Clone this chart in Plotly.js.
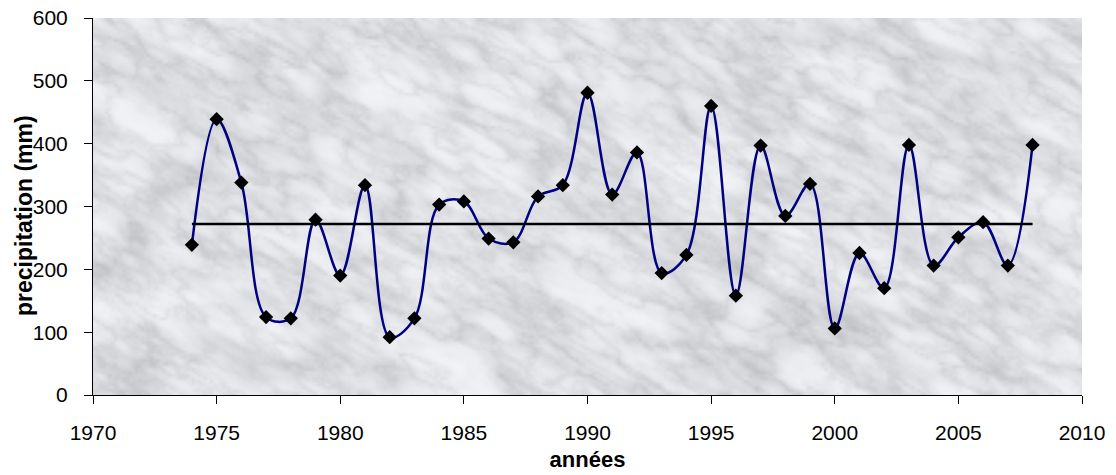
<!DOCTYPE html>
<html>
<head>
<meta charset="utf-8">
<script src="https://cdn.plot.ly/plotly-3.0.1.min.js"></script>
<style>
html,body{margin:0;padding:0;background:#fff;}
#chart{width:1116px;height:475px;}
</style>
</head>
<body>
<div id="chart"></div>
<script>
// ---- data ----
const years = [1974,1975,1976,1977,1978,1979,1980,1981,1982,1983,1984,1985,1986,1987,1988,1989,1990,1991,1992,1993,1994,1995,1996,1997,1998,1999,2000,2001,2002,2003,2004,2005,2006,2007,2008];
const precipitation = [239,439,338,124,122,279,190,334,92,122,303,308,249,243,316,334,481,319,386,194,223,460,158,397,285,336,106,226,170,398,206,251,275,206,398];
const meanYears = [1974, 2008];
const meanValues = [272, 272];
const xTicks = [1970,1975,1980,1985,1990,1995,2000,2005,2010];
const yTicks = [0,100,200,300,400,500,600];

// ---- decorative marble texture (background only) ----
function makeMarble(w, h) {
  let s = 98765;
  function rnd(){ s |= 0; s = s + 0x6D2B79F5 | 0; let t = Math.imul(s ^ s >>> 15, 1 | s); t = t + Math.imul(t ^ t >>> 7, 61 | t) ^ t; return ((t ^ t >>> 14) >>> 0) / 4294967296; }
  const G = 128, grid = new Float32Array(G*G);
  for (let i=0;i<G*G;i++) grid[i]=rnd();
  function noise(x,y){
    const xi=Math.floor(x), yi=Math.floor(y), xf=x-xi, yf=y-yi;
    const u=xf*xf*(3-2*xf), v=yf*yf*(3-2*yf);
    const x0=((xi%G)+G)%G, x1=(x0+1)%G, y0=((yi%G)+G)%G, y1=(y0+1)%G;
    const a=grid[y0*G+x0], b=grid[y0*G+x1], c=grid[y1*G+x0], d=grid[y1*G+x1];
    return (a+(b-a)*u)*(1-v)+(c+(d-c)*u)*v;
  }
  function fbm(x,y){ let t=0,amp=0.5,f=1; for(let o=0;o<5;o++){t+=amp*noise(x*f,y*f);amp*=0.5;f*=2.03;} return t; }
  const cv=document.createElement('canvas'); cv.width=w; cv.height=h;
  const ctx=cv.getContext('2d'); const img=ctx.createImageData(w,h);
  const ang=-0.5, ca=Math.cos(ang), sa=Math.sin(ang);
  for(let y=0;y<h;y++){ for(let x=0;x<w;x++){
    const u=(x*ca - y*sa), v=(x*sa + y*ca);
    const n1=fbm(u*0.03, v*0.09);
    const n2=fbm(x*0.06+40, y*0.06+17);
    const n3=fbm(u*0.08+9, v*0.2+3);
    const vein=Math.pow(1-Math.abs(2*n1-1), 4);
    const vein2=Math.pow(1-Math.abs(2*n3-1), 5);
    const spec=Math.max(0,n2-0.5)*2;
    let g = 245 - 24*vein - 18*vein2 - 20*spec;
    g=Math.max(185,Math.min(250,g));
    const i=(y*w+x)*4;
    img.data[i]=g-3; img.data[i+1]=g-1; img.data[i+2]=g+3; img.data[i+3]=255;
  }}
  ctx.putImageData(img,0,0);
  return cv.toDataURL('image/png');
}
let bgSrc = null;
try { bgSrc = makeMarble(330, 126); } catch(e) { bgSrc = null; }

const font = "'Liberation Sans', Arial, sans-serif";

const traces = [
  {
    x: years, y: precipitation, type: 'scatter', mode: 'lines+markers',
    line: {color: '#000080', width: 2.5, shape: 'spline', smoothing: 1},
    marker: {symbol: 'diamond', size: 11, color: '#000000'},
    hoverinfo: 'x+y', showlegend: false
  },
  {
    x: meanYears, y: meanValues, type: 'scatter', mode: 'lines',
    line: {color: '#000000', width: 2.5},
    hoverinfo: 'skip', showlegend: false
  }
];

const layout = {
  width: 1116, height: 475,
  margin: {l: 93, r: 34, t: 18, b: 80},
  paper_bgcolor: '#ffffff',
  plot_bgcolor: bgSrc ? 'rgba(0,0,0,0)' : '#e3e6e9',
  font: {family: font, color: '#000000', size: 21},
  showlegend: false,
  xaxis: {
    range: [1970, 2010], tickvals: xTicks, ticktext: xTicks.map(String),
    showgrid: false, zeroline: false,
    showline: true, linecolor: '#000000', linewidth: 1,
    ticks: 'outside', ticklen: 8, tickcolor: '#000000', tickwidth: 1,
    ticklabelstandoff: 11,
    tickfont: {family: font, size: 21, color: '#000'},
    title: {text: '<b>années</b>', font: {family: font, size: 22, color: '#000'}, standoff: 8},
    fixedrange: true
  },
  yaxis: {
    range: [0, 600], tickvals: yTicks, ticktext: yTicks.map(String),
    showgrid: false, zeroline: false,
    showline: true, linecolor: '#000000', linewidth: 1,
    ticks: 'outside', ticklen: 8, tickcolor: '#000000', tickwidth: 1,
    ticklabelstandoff: 12,
    tickfont: {family: font, size: 21, color: '#000'},
    fixedrange: true
  },
  annotations: [{
    text: '<b>precipitation (mm)</b>', xref: 'paper', yref: 'paper',
    x: -(93 - 24) / 989, y: 1 - (216 - 18) / 377,
    xanchor: 'center', yanchor: 'middle', textangle: -90, showarrow: false,
    font: {family: font, size: 23, color: '#000'}
  }],
  images: bgSrc ? [{
    source: bgSrc, xref: 'paper', yref: 'paper', x: 0, y: 1, sizex: 1, sizey: 1,
    sizing: 'stretch', xanchor: 'left', yanchor: 'top', layer: 'below'
  }] : []
};

Plotly.newPlot('chart', traces, layout, {displayModeBar: false, staticPlot: true});
</script>
</body>
</html>
